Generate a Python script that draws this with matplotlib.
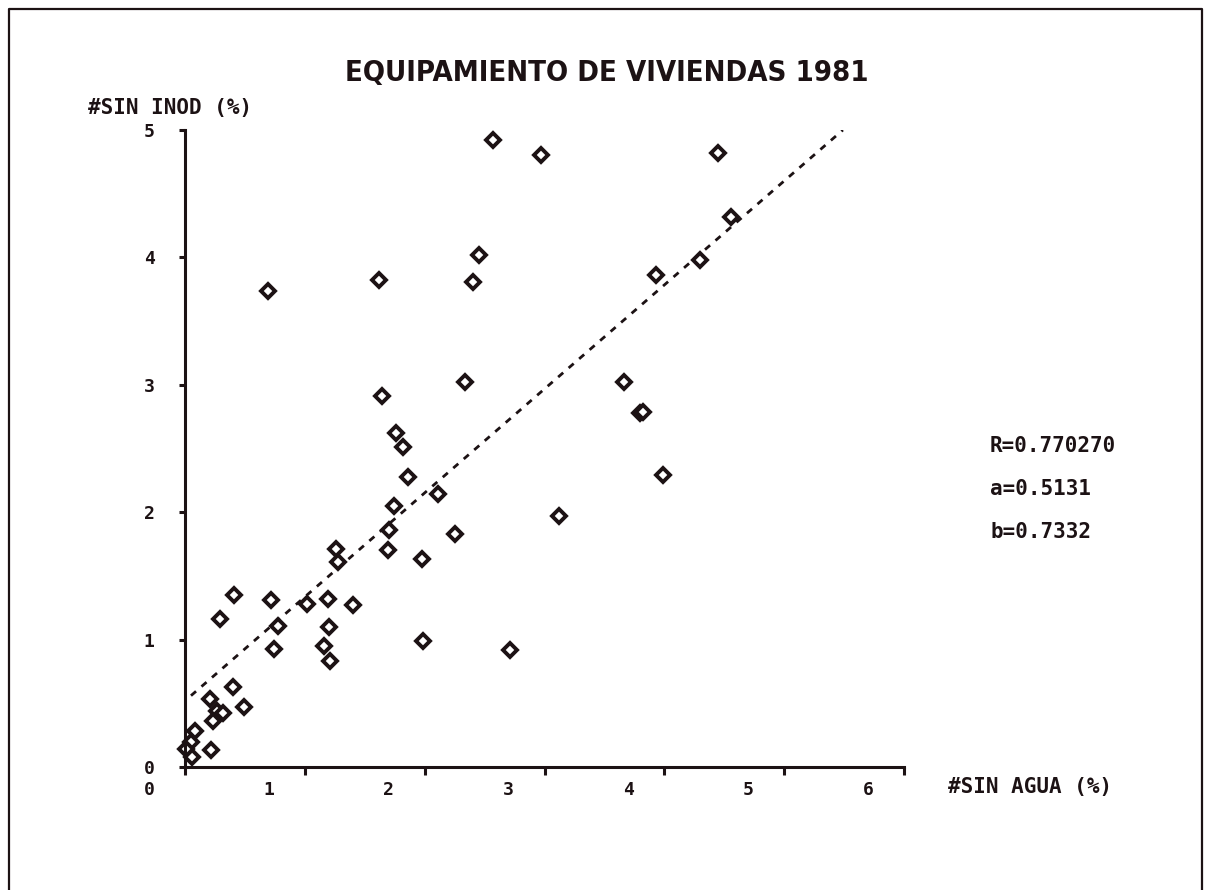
import matplotlib
matplotlib.use("Agg")
import matplotlib.pyplot as plt
from matplotlib.lines import Line2D
from matplotlib.transforms import ScaledTranslation

# % viviendas sin agua (x) vs % sin inodoro (y)
sin_agua = [2.57, 2.97, 4.45, 4.56, 4.30, 3.93, 2.45, 1.62, 2.40, 0.69,
            3.66, 2.34, 1.64, 1.76, 1.82, 3.80, 3.82, 1.86, 1.74, 1.70,
            1.69, 1.98, 1.99, 2.11, 2.25, 3.12, 3.99, 2.71, 1.26, 1.28,
            0.41, 0.29, 0.72, 0.78, 0.74, 1.02, 1.19, 1.40, 1.20, 1.16,
            1.21, 0.40, 0.49, 0.21, 0.27, 0.32, 0.23, 0.08, 0.05, 0.22,
            0.06, 0.01]
sin_inod = [4.92, 4.80, 4.82, 4.32, 3.98, 3.86, 4.02, 3.82, 3.81, 3.74,
            3.02, 3.02, 2.91, 2.62, 2.51, 2.78, 2.79, 2.28, 2.05, 1.86,
            1.70, 1.63, 0.99, 2.14, 1.83, 1.97, 2.29, 0.92, 1.71, 1.61,
            1.35, 1.16, 1.31, 1.11, 0.93, 1.28, 1.32, 1.27, 1.10, 0.95,
            0.83, 0.63, 0.47, 0.53, 0.44, 0.42, 0.36, 0.28, 0.20, 0.13,
            0.08, 0.14]

# regression line as drawn on the printout
trend_x = [0.05, 5.49]
trend_y = [0.56, 5.00]

x_ticks = [0, 1, 2, 3, 4, 5, 6]
y_ticks = [0, 1, 2, 3, 4, 5]
stats = ["R=0.770270", "a=0.5131", "b=0.7332"]

ink = "#1c1214"
mono = ["DejaVu Sans Mono"]

fig = plt.figure(figsize=(12.07, 8.9), dpi=100)
fig.patch.set_facecolor("white")

# page frame: top, left and right edges only (bottom is cut off on the scan)
fx = [9 / 1207, 9 / 1207, 1202 / 1207, 1202 / 1207]
fy = [0.0, 1 - 9 / 890, 1 - 9 / 890, 0.0]
fig.add_artist(Line2D(fx, fy, transform=fig.transFigure, color=ink, linewidth=1.6))

ax = fig.add_axes([185 / 1207, (890 - 767) / 890, (904 - 185) / 1207, (767 - 130) / 890])
ax.set_xlim(0, 6)
ax.set_ylim(0, 5)
for s in ["top", "right"]:
    ax.spines[s].set_visible(False)
for s in ["left", "bottom"]:
    ax.spines[s].set_linewidth(2.2)
    ax.spines[s].set_color(ink)

ax.plot(trend_x, trend_y, color=ink, linewidth=2.0, linestyle=(0, (2.4, 2.6)))
ax.plot(sin_agua, sin_inod, linestyle="none", marker="D", markersize=6.8,
        markerfacecolor="white", markeredgecolor=ink, markeredgewidth=2.8,
        clip_on=False)

ax.set_xticks(x_ticks)
ax.set_yticks(y_ticks)
ax.set_xticklabels([str(v) for v in x_ticks], fontfamily=mono, fontweight="bold", fontsize=13)
ax.set_yticklabels([str(v) for v in y_ticks], fontfamily=mono, fontweight="bold", fontsize=13)
ax.tick_params(axis="x", direction="out", length=6, width=2.2, color=ink, labelcolor=ink, pad=4)
ax.tick_params(axis="y", direction="out", length=4, width=2.2, color=ink, labelcolor=ink, pad=18)

# x labels sit left of their ticks on the printout
shift = ScaledTranslation(-0.36, 0, fig.dpi_scale_trans)
for lbl in ax.xaxis.get_majorticklabels():
    lbl.set_transform(lbl.get_transform() + shift)

fig.text(607 / 1207, 1 - 73 / 890, "EQUIPAMIENTO DE VIVIENDAS 1981",
         ha="center", va="center", fontsize=21, fontweight="heavy",
         fontstretch="condensed", family=["DejaVu Sans"], color=ink)
fig.text(88 / 1207, 1 - 108 / 890, "#SIN INOD (%)", ha="left", va="center",
         fontsize=15, fontweight="bold", family=mono, color=ink)
fig.text(948 / 1207, 1 - 787 / 890, "#SIN AGUA (%)", ha="left", va="center",
         fontsize=15, fontweight="bold", family=mono, color=ink)

for i, s in enumerate(stats):
    fig.text(990 / 1207, 1 - (446 + 43 * i) / 890, s, ha="left", va="center",
             fontsize=15, fontweight="bold", family=mono, color=ink)

fig.savefig("out.png", dpi=100)
